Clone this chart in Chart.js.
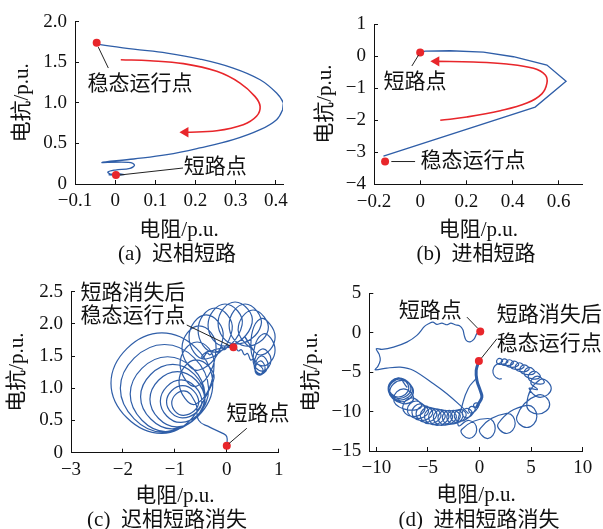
<!DOCTYPE html>
<html>
<head>
<meta charset="utf-8">
<script src="https://cdn.jsdelivr.net/npm/chart.js@4.4.1/dist/chart.umd.min.js"></script>
<style>
  body { margin: 0; width: 603px; height: 529px; position: relative; overflow: hidden; background: #fff;
         font-family: 'Liberation Serif', 'Noto Sans CJK SC', serif; color: #111; }
  canvas { position: absolute; }
  .cap { position: absolute; font-size: 21px; line-height: 24px; white-space: nowrap; transform: translate(-50%, -50%); }
</style>
</head>
<body>
<canvas id="pa" width="300" height="270" style="left:0;top:0"></canvas>
<canvas id="pb" width="303" height="270" style="left:300px;top:0"></canvas>
<canvas id="pc" width="300" height="259" style="left:0;top:270px"></canvas>
<canvas id="pd" width="303" height="259" style="left:300px;top:270px"></canvas>
<div class="cap" style="left:177px;top:253px">(a) &nbsp;迟相短路</div>
<div class="cap" style="left:476px;top:253px">(b) &nbsp;进相短路</div>
<div class="cap" style="left:167px;top:519px">(c) &nbsp;迟相短路消失</div>
<div class="cap" style="left:479px;top:519px">(d) &nbsp;进相短路消失</div>
<script>
// ---------- (a) lagging-phase short circuit ----------
const aXTicks = [-0.1, 0, 0.1, 0.2, 0.3, 0.4];
const aXLabels = ['−0.1', '0', '0.1', '0.2', '0.3', '0.4'];
const aYTicks = [0, 0.5, 1, 1.5, 2];
const aYLabels = ['0', '0.5', '1.0', '1.5', '2.0'];
const aTrajectory = [
  [-0.046, 1.74], [-0.037, 1.717], [0.046, 1.663], [0.129, 1.614], [0.211, 1.540], [0.294, 1.429],
  [0.361, 1.285], [0.402, 1.121], [0.419, 0.998], [0.417, 0.916], [0.402, 0.793], [0.361, 0.669],
  [0.294, 0.546], [0.211, 0.444], [0.129, 0.361], [0.046, 0.308], [-0.033, 0.265], [0.033, 0.267],
  [0.048, 0.234], [0.037, 0.193], [0.0, 0.172], [-0.018, 0.148], [-0.012, 0.123], [0.012, 0.123],
  [0.022, 0.115], [-0.015, 0.113], [0.010, 0.118], [0.002, 0.111]
];
const aArrow = [
  [0.014, 1.532], [0.087, 1.519], [0.170, 1.483], [0.253, 1.388], [0.311, 1.244], [0.348, 1.080],
  [0.361, 0.957], [0.352, 0.834], [0.319, 0.731], [0.253, 0.657], [0.175, 0.637]
];
const aPoints = [[-0.046, 1.74], [0.002, 0.111]];

// ---------- (b) leading-phase short circuit ----------
const bXTicks = [-0.2, 0, 0.2, 0.4, 0.6];
const bXLabels = ['−0.2', '0', '0.2', '0.4', '0.6'];
const bYTicks = [1, 0, -1, -2, -3, -4];
const bYLabels = ['1', '0', '−1', '−2', '−3', '−4'];
const bTrajectory = [
  [0.0, 0.12], [0.022, 0.155], [0.130, 0.165], [0.274, 0.124], [0.404, -0.021], [0.549, -0.279],
  [0.632, -0.785], [0.498, -1.591], [-0.159, -3.12]
];
const bArrow = [
  [0.087, -2.004], [0.202, -1.901], [0.347, -1.705], [0.462, -1.467], [0.527, -1.178], [0.549, -0.847],
  [0.542, -0.589], [0.491, -0.382], [0.375, -0.248], [0.231, -0.186], [0.070, -0.165]
];
const bPoints = [[0.0, 0.114], [-0.152, -3.29]];

// ---------- (c) lagging-phase short circuit cleared ----------
const cXTicks = [-3, -2, -1, 0, 1];
const cXLabels = ['−3', '−2', '−1', '0', '1'];
const cYTicks = [0, 0.5, 1, 1.5, 2, 2.5];
const cYLabels = ['0', '0.5', '1.0', '1.5', '2.0', '2.5'];
const cTrajectory = [
  [0, 0.109], [0, 0.248], [-0.077, 0.300], [-0.321, 0.393], [-0.545, 0.507],
  [-0.60, 0.77], [-0.83, 0.96], [-1.06, 0.77], [-0.83, 0.58],
  [-0.54, 0.79], [-0.85, 1.04], [-1.16, 0.79], [-0.85, 0.54],
  [-0.48, 0.80], [-0.88, 1.13], [-1.28, 0.80], [-0.88, 0.47],
  [-0.42, 0.83], [-0.95, 1.26], [-1.48, 0.83], [-0.95, 0.40],
  [-0.42, 0.87], [-1.04, 1.37], [-1.66, 0.87], [-1.04, 0.37],
  [-0.42, 0.91], [-1.14, 1.49], [-1.86, 0.91], [-1.14, 0.33],
  [-0.35, 1.00], [-1.20, 1.68], [-2.05, 1.00], [-1.20, 0.32],
  [-0.27, 1.08], [-1.25, 1.86], [-2.23, 1.08], [-1.25, 0.30],
  [-0.264, 1.098], [-0.592, 1.440], [-0.920, 1.098], [-0.592, 0.756],
  [-0.244, 1.377], [-0.572, 1.719], [-0.900, 1.377], [-0.572, 1.035],
  [-0.206, 1.626], [-0.534, 1.968], [-0.862, 1.626], [-0.534, 1.284],
  [-0.071, 1.797], [-0.399, 2.139], [-0.727, 1.797], [-0.399, 1.455],
  [0.103, 1.905], [-0.225, 2.247], [-0.553, 1.905], [-0.225, 1.563],
  [0.295, 1.983], [-0.033, 2.309], [-0.361, 1.983], [-0.033, 1.657],
  [0.488, 2.014], [0.160, 2.340], [-0.168, 2.014], [0.160, 1.688],
  [0.661, 1.983], [0.353, 2.309], [0.045, 1.983], [0.353, 1.657],
  [0.796, 1.905], [0.507, 2.216], [0.218, 1.905], [0.507, 1.594],
  [0.353, 1.797], [0.642, 1.517], [0.931, 1.797], [0.642, 2.077],
  [0.468, 1.595], [0.699, 1.347], [0.930, 1.595], [0.699, 1.843],
  [0.507, 1.439], [0.680, 1.268], [0.853, 1.439], [0.680, 1.610],
  [0.526, 1.362], [0.661, 1.222], [0.796, 1.362], [0.661, 1.502],
  [0.546, 1.315], [0.642, 1.206], [0.738, 1.315], [0.642, 1.424],
  [0.545, 1.284], [0.622, 1.206], [0.699, 1.284], [0.622, 1.362],
  [0.58, 1.38], [0.52, 1.46], [0.46, 1.44], [0.40, 1.54], [0.34, 1.52], [0.28, 1.60], [0.22, 1.58],
  [0.16, 1.65], [0.10, 1.62], [0.04, 1.66], [-0.04, 1.60], [-0.10, 1.64], [-0.18, 1.56], [-0.24, 1.60],
  [-0.32, 1.52], [-0.38, 1.55], [-0.46, 1.47], [-0.48, 1.50], [-0.40, 1.56], [-0.30, 1.58],
  [-0.18, 1.61], [-0.04, 1.63], [0.128, 1.636]
];
const cPoints = [[0, 0.109], [0.128, 1.636]];

// ---------- (d) leading-phase short circuit cleared ----------
const dXTicks = [-10, -5, 0, 5, 10];
const dXLabels = ['−10', '−5', '0', '5', '10'];
const dYTicks = [5, 0, -5, -10, -15];
const dYLabels = ['5', '0', '−5', '−10', '−15'];
const dFaultPath = [
  [0.07, 0.17], [-0.26, -0.13], [-0.51, -0.77], [-0.90, -1.15], [-1.29, -0.98], [-1.48, -0.34],
  [-1.61, 0.38], [-1.94, 0.88], [-2.35, 1.01], [-2.78, 1.22], [-3.16, 1.01], [-3.65, 1.22],
  [-4.13, 1.05], [-4.52, 1.35], [-4.94, 1.14], [-5.33, 0.80], [-6.07, -0.34], [-7.04, -1.19],
  [-8.33, -1.82], [-9.46, -2.12], [-10.01, -2.03], [-9.72, -2.75], [-9.62, -3.51], [-9.85, -4.27],
  [-10.11, -4.70], [-8.98, -4.49], [-7.69, -4.36], [-6.39, -4.78], [-4.46, -6.47], [-3.16, -7.74],
  [-1.87, -9.22], [-1.06, -10.28]
];
const dLeftChain = [
  [-7.0, -6.95], [-7.9, -5.75], [-8.8, -6.95], [-7.9, -8.15],
  [-6.85, -7.05], [-7.85, -5.75], [-8.85, -7.05], [-7.85, -8.35],
  [-6.65, -7.15], [-7.75, -5.75], [-8.85, -7.15], [-7.75, -8.55],
  [-6.5, -7.3], [-7.65, -5.85], [-8.8, -7.3], [-7.65, -8.75],
  [-6.4, -7.5], [-7.55, -6.05], [-8.7, -7.5], [-7.55, -8.95],
  [-6.39, -8.38], [-7.36, -7.11], [-8.33, -8.38], [-7.36, -9.65],
  [-5.65, -9.44], [-6.55, -8.26], [-7.45, -9.44], [-6.55, -10.62],
  [-5.30, -9.76], [-6.15, -8.66], [-7.00, -9.76], [-6.15, -10.86],
  [-4.95, -10.08], [-5.75, -9.03], [-6.55, -10.08], [-5.75, -11.13],
  [-4.55, -10.29], [-5.35, -9.24], [-6.15, -10.29], [-5.35, -11.34],
  [-4.14, -10.49], [-4.94, -9.44], [-5.74, -10.49], [-4.94, -11.54],
  [-3.74, -10.60], [-4.54, -9.55], [-5.34, -10.60], [-4.54, -11.65],
  [-3.33, -10.71], [-4.13, -9.66], [-4.93, -10.71], [-4.13, -11.76],
  [-2.97, -10.75], [-3.72, -9.76], [-4.47, -10.75], [-3.72, -11.74],
  [-2.61, -10.79], [-3.32, -9.86], [-4.03, -10.79], [-3.32, -11.72],
  [-2.24, -10.75], [-2.92, -9.86], [-3.60, -10.75], [-2.92, -11.64],
  [-1.87, -10.71], [-2.52, -9.86], [-3.17, -10.71], [-2.52, -11.56],
  [-1.60, -10.60], [-2.20, -9.80], [-2.80, -10.60], [-2.20, -11.40],
  [-1.29, -10.49], [-1.87, -9.73], [-2.45, -10.49], [-1.87, -11.25],
  [-0.76, -10.20], [-1.22, -9.60], [-1.68, -10.20], [-1.22, -10.80],
  [-0.42, -9.77], [-0.74, -9.35], [-1.06, -9.77], [-0.74, -10.19],
  [-0.06, -9.23], [-0.32, -8.89], [-0.58, -9.23], [-0.32, -9.57]
];
const dNeck = [
  [-0.32, -9.57], [-0.10, -9.01], [0.23, -8.17], [0.07, -7.32], [-0.25, -6.05], [-0.32, -4.78], [-0.06, -3.60]
];
const dRightChain = [
  [2.17, -5.84], [1.84, -5.84], [1.42, -5.42], [1.30, -4.78], [1.52, -4.15],
  [2.23, -3.64], [1.94, -3.26], [1.65, -3.64], [1.94, -4.02],
  [2.74, -3.73], [2.42, -3.31], [2.10, -3.73], [2.42, -4.15],
  [3.27, -3.90], [2.91, -3.43], [2.55, -3.90], [2.91, -4.37],
  [3.78, -4.11], [3.39, -3.60], [3.00, -4.11], [3.39, -4.62],
  [4.30, -4.36], [3.88, -3.81], [3.46, -4.36], [3.88, -4.91],
  [4.81, -4.66], [4.36, -4.07], [3.91, -4.66], [4.36, -5.25],
  [5.36, -5.08], [4.84, -4.40], [4.32, -5.08], [4.84, -5.76],
  [5.88, -5.63], [5.30, -4.87], [4.72, -5.63], [5.30, -6.39],
  [6.27, -6.35], [5.62, -5.50], [4.97, -6.35], [5.62, -7.20],
  [4.81, -7.07], [5.88, -8.21], [6.95, -7.07], [5.88, -5.93],
  [4.58, -9.10], [5.69, -10.31], [6.80, -9.10], [5.69, -7.89],
  [3.62, -10.62], [4.59, -12.02], [5.56, -10.62], [4.59, -9.22],
  [1.82, -11.51], [2.64, -12.78], [3.46, -11.51], [2.64, -10.24],
  [0.06, -12.15], [0.79, -13.42], [1.52, -12.15], [0.79, -10.88],
  [-1.73, -12.27], [-1.00, -13.41], [-0.27, -12.27], [-1.00, -11.13],
  [-2.06, -11.76], [-1.68, -9.23], [-1.09, -7.07], [-0.32, -5.80]
];
const dPoints = [[0.07, 0.17], [-0.06, -3.60]];

const FONT = "'Liberation Serif', 'Noto Sans CJK SC', serif";
const BLUE = '#2f5ea8';
const RED = '#e8262b';
const INK = '#111111';

const xy = arr => arr.map(p => ({ x: p[0], y: p[1] }));

// leader lines and callout text, placed in data coordinates
const notesPlugin = {
  id: 'notes',
  afterDatasetsDraw(chart, args, opts) {
    const { ctx, scales: { x, y } } = chart;
    ctx.save();
    ctx.strokeStyle = '#222';
    ctx.lineWidth = 1;
    (opts.lines || []).forEach(l => {
      ctx.beginPath();
      ctx.moveTo(x.getPixelForValue(l[0]), y.getPixelForValue(l[1]));
      ctx.lineTo(x.getPixelForValue(l[2]), y.getPixelForValue(l[3]));
      ctx.stroke();
    });
    ctx.font = '21px ' + FONT;
    ctx.fillStyle = INK;
    ctx.textAlign = 'center';
    ctx.textBaseline = 'middle';
    (opts.texts || []).forEach(t => ctx.fillText(t.t, x.getPixelForValue(t.x), y.getPixelForValue(t.y)));
    ctx.restore();
  }
};

function trajectory(data, width, tension) {
  return { data: xy(data), showLine: true, borderColor: BLUE, borderWidth: width, pointRadius: 0, tension: tension, fill: false };
}
function arrow(data) {
  const last = data.length - 1;
  return {
    data: xy(data), showLine: true, borderColor: RED, borderWidth: 1.6, tension: 0.4, fill: false,
    pointRadius: c => (c.dataIndex === last ? 6 : 0), pointStyle: 'triangle', pointRotation: 270,
    pointBackgroundColor: RED, pointBorderColor: RED, pointBorderWidth: 0
  };
}
function dots(data) {
  return { data: xy(data), showLine: false, pointRadius: 4, pointBackgroundColor: RED, pointBorderWidth: 0 };
}

function panel(id, cfg) {
  const cv = document.getElementById(id);
  const W = cv.width, H = cv.height;
  const [l, t, r, b] = cfg.area;
  const tickFont = { family: FONT, size: 19 };
  const titleFont = { family: FONT, size: 21 };
  new Chart(cv, {
    type: 'scatter',
    data: { datasets: cfg.datasets },
    options: {
      responsive: false, animation: false, devicePixelRatio: 1,
      layout: { padding: { left: 0, top: t, right: W - r, bottom: 0 } },
      plugins: { legend: { display: false }, tooltip: { enabled: false }, notes: cfg.notes },
      scales: {
        x: {
          type: 'linear', min: cfg.x.min, max: cfg.x.max,
          afterBuildTicks: s => { s.ticks = cfg.x.ticks.map(v => ({ value: v })); },
          afterFit: s => { s.height = H - b; s.paddingLeft = 0; s.paddingRight = 0; },
          ticks: { callback: (v, i) => cfg.x.labels[i], font: tickFont, color: INK, padding: 10, maxRotation: 0, autoSkip: false },
          grid: { drawOnChartArea: false, tickLength: -4, color: INK, lineWidth: 1 },
          border: { color: INK, width: 1 },
          title: { display: true, text: '电阻/p.u.', font: titleFont, color: INK, padding: { top: 0, bottom: cfg.xTitlePad } }
        },
        y: {
          type: 'linear', min: cfg.y.min, max: cfg.y.max,
          afterBuildTicks: s => { s.ticks = cfg.y.ticks.map(v => ({ value: v })); },
          afterFit: s => { s.width = l; s.paddingTop = 0; s.paddingBottom = 0; },
          ticks: { callback: (v, i) => cfg.y.labels[i], font: tickFont, color: INK, padding: 12, autoSkip: false },
          grid: { drawOnChartArea: false, tickLength: -4, color: INK, lineWidth: 1 },
          border: { color: INK, width: 1 },
          title: { display: true, text: '电抗/p.u.', font: titleFont, color: INK, padding: { top: cfg.yTitlePad, bottom: 0 } }
        }
      }
    },
    plugins: [notesPlugin]
  });
}

panel('pa', {
  area: [75, 21.7, 283, 184], xTitlePad: 27, yTitlePad: 9.7,
  x: { min: -0.1, max: 0.418, ticks: aXTicks, labels: aXLabels },
  y: { min: 0, max: 2, ticks: aYTicks, labels: aYLabels },
  datasets: [dots(aPoints), arrow(aArrow), trajectory(aTrajectory, 1.3, 0.4)],
  notes: {
    texts: [{ t: '稳态运行点', x: 0.062, y: 1.232 }, { t: '短路点', x: 0.249, y: 0.209 }],
    lines: [[-0.042, 1.687, -0.017, 1.429], [0.012, 0.111, 0.169, 0.197]]
  }
});

panel('pb', {
  area: [74, 24, 282.7, 184.3], xTitlePad: 27, yTitlePad: 13,
  x: { min: -0.2, max: 0.704, ticks: bXTicks, labels: bXLabels },
  y: { min: -4, max: 1, ticks: bYTicks, labels: bYLabels },
  datasets: [dots(bPoints), arrow(bArrow), trajectory(bTrajectory, 1.3, 0)],
  notes: {
    texts: [{ t: '短路点', x: -0.022, y: -0.81 }, { t: '稳态运行点', x: 0.229, y: -3.30 }],
    lines: [[-0.007, 0.03, -0.036, -0.31], [-0.125, -3.29, -0.022, -3.29]]
  }
});

panel('pc', {
  area: [71, 21.7, 278.7, 182.7], xTitlePad: 19.7, yTitlePad: 4.9,
  x: { min: -3, max: 1, ticks: cXTicks, labels: cXLabels },
  y: { min: 0, max: 2.5, ticks: cYTicks, labels: cYLabels },
  datasets: [dots(cPoints), trajectory(cTrajectory, 1.2, 0.5)],
  notes: {
    texts: [{ t: '短路消失后', x: -1.805, y: 2.475 }, { t: '稳态运行点', x: -1.805, y: 2.112 }, { t: '短路点', x: 0.603, y: 0.601 }],
    lines: [[-0.771, 1.983, 0.06, 1.66], [0.385, 0.379, 0.04, 0.14]]
  }
});

panel('pd', {
  area: [69.3, 23.3, 282.7, 181], xTitlePad: 21.4, yTitlePad: -1,
  x: { min: -10.68, max: 10, ticks: dXTicks, labels: dXLabels },
  y: { min: -15, max: 5, ticks: dYTicks, labels: dYLabels },
  datasets: [dots(dPoints), trajectory(dNeck, 3, 0.4), trajectory(dFaultPath, 1.2, 0.3),
             trajectory(dLeftChain, 1.2, 0.5), trajectory(dRightChain, 1.2, 0.5)],
  notes: {
    texts: [{ t: '短路点', x: -4.78, y: 2.74 }, { t: '短路消失后', x: 6.77, y: 2.20 }, { t: '稳态运行点', x: 6.77, y: -1.51 }],
    lines: [[-1.22, 1.98, -0.2, 0.6], [1.69, -0.76, 0.2, -3.2]]
  }
});
</script>
</body>
</html>
